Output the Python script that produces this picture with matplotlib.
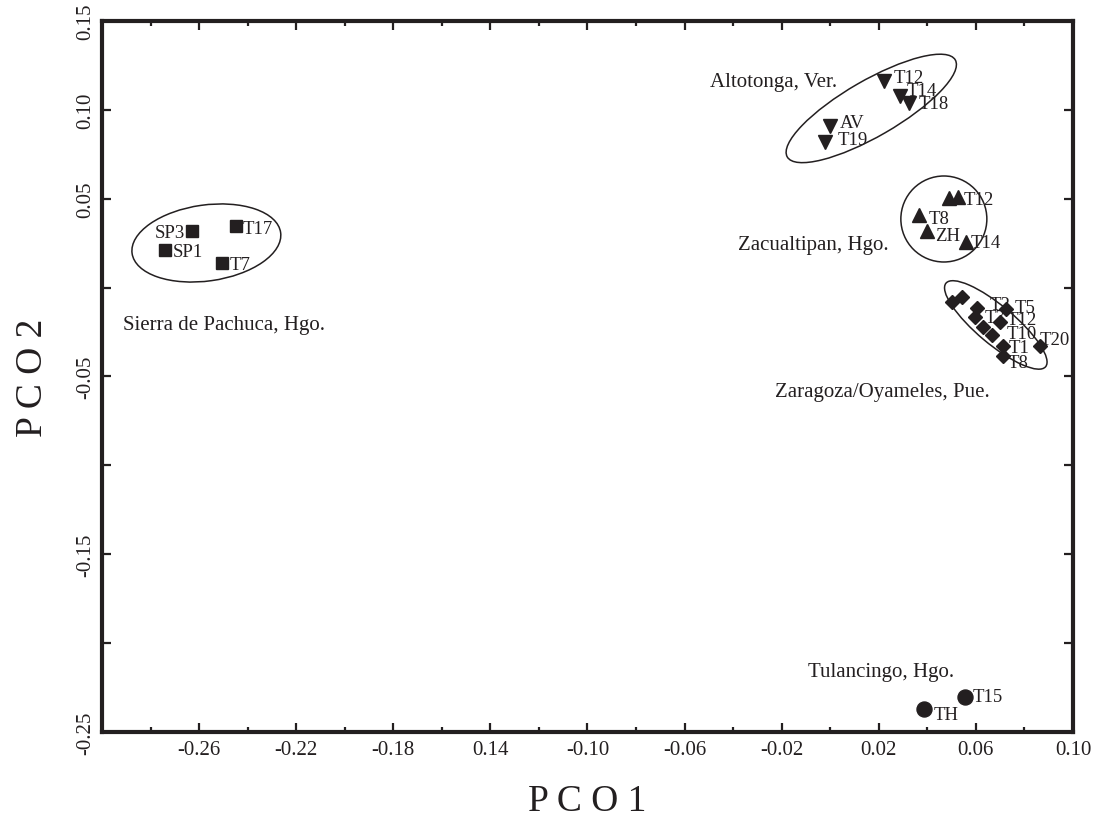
import numpy as np
import matplotlib
matplotlib.use('Agg')
import matplotlib.pyplot as plt
from matplotlib.patches import Ellipse
from matplotlib import transforms

plt.rcParams['font.family'] = ['Liberation Serif', 'DejaVu Serif']

ink = '#231f20'
DPI = 100
PX = 72.0 / DPI  # points per pixel

# PCO scores, one block per locality
sierra_x = [-0.2631, -0.2740, -0.2448, -0.2507]
sierra_y = [0.0317, 0.0212, 0.0345, 0.0139]
sierra_lab = ['SP3', 'SP1', 'T17', 'T7']

alto_x = [0.0221, 0.0287, 0.0325, 0.0001, -0.0022]
alto_y = [0.1164, 0.1080, 0.1039, 0.0908, 0.0818]
alto_lab = ['T12', 'T14', 'T18', 'AV', 'T19']

zacu_x = [0.0490, 0.0527, 0.0365, 0.0397, 0.0561]
zacu_y = [0.0502, 0.0508, 0.0409, 0.0320, 0.0258]
zacu_lab = ['', 'T12', 'T8', 'ZH', 'T14']

zara_x = [0.0500, 0.0541, 0.0603, 0.0596, 0.0630, 0.0668, 0.0699, 0.0726, 0.0710, 0.0712, 0.0863]
zara_y = [-0.0083, -0.0051, -0.0115, -0.0167, -0.0223, -0.0265, -0.0195, -0.0120, -0.0327, -0.0383, -0.0327]
zara_lab = ['', '', 'T2', 'T7', '', 'T10', 'T12', 'T5', 'T1', 'T8', 'T20']

tula_x = [0.0386, 0.0554]
tula_y = [-0.2371, -0.2305]
tula_lab = ['TH', 'T15']

group_names = ['Sierra de Pachuca, Hgo.', 'Altotonga, Ver.', 'Zacualtipan, Hgo.',
               'Zaragoza/Oyameles, Pue.', 'Tulancingo, Hgo.']

xtick_vals = [-0.26, -0.22, -0.18, -0.14, -0.10, -0.06, -0.02, 0.02, 0.06, 0.10]
xtick_labels = ['-0.26', '-0.22', '-0.18', '0.14', '-0.10', '-0.06', '-0.02', '0.02', '0.06', '0.10']
ytick_vals = [0.15, 0.10, 0.05, 0.0, -0.05, -0.10, -0.15, -0.20, -0.25]
ytick_labels = ['0.15', '0.10', '0.05', '', '-0.05', '', '-0.15', '', '-0.25']

# label offsets (pixels: right, up) of each point label
sierra_off = [(-6.7, 0), (7.7, 0), (6.7, -1), (8.3, 0)]
alto_off = [(9.3, 5), (6.7, 6.7), (9, 0.7), (9.3, 5.6), (12.3, 4)]
zacu_off = [(0, 0), (5, -0.7), (9.3, -2.3), (8.3, -3.3), (4, 1)]
zara_off = [(0, 0), (0, 0), (13, 5), (10, 1), (0, 0), (14, 3.4), (6.7, 4.3),
            (8.3, 3.3), (5.6, 0), (5, -5), (0, 8.4)]
tula_off = [(9.3, -4), (7.7, 2.5)]

groups = [
    (sierra_x, sierra_y, sierra_lab, sierra_off, 's', 9.1),
    (alto_x, alto_y, alto_lab, alto_off, 'v', 10.0),
    (zacu_x, zacu_y, zacu_lab, zacu_off, '^', 9.6),
    (zara_x, zara_y, zara_lab, zara_off, 'D', 7.2),
    (tula_x, tula_y, tula_lab, tula_off, 'o', 10.8),
]

# group ellipses: centre in data units, size in pixels, angle in degrees
ell_cx = [-0.2570, 0.0169, 0.0468, 0.0682]
ell_cy = [0.0251, 0.1008, 0.0386, -0.0210]
ell_w = [150, 194, 86, 130]
ell_h = [76, 56, 86, 38]
ell_ang = [8, 30, 0, -40]

name_x = [-0.2914, -0.0496, -0.0381, -0.0228, -0.0092]
name_y = [-0.0233, 0.1134, 0.0217, -0.0610, -0.2185]

fig = plt.figure(figsize=(10.93, 8.2), dpi=DPI)
ax = fig.add_axes([0.0933, 0.1061, 0.8884, 0.8671])
ax.set_xlim(-0.30, 0.10)
ax.set_ylim(-0.25, 0.15)

pt_fs = 13.5
half_cap = 0.66 * pt_fs / PX / 2  # pixels

for xs, ys, labs, offs, mk, ms in groups:
    ax.plot(xs, ys, linestyle='none', marker=mk, ms=ms, color=ink, mec=ink, zorder=3)
    for x, y, lab, (dx, dy) in zip(xs, ys, labs, offs):
        if not lab:
            continue
        ax.annotate(lab, (x, y), xytext=(dx * PX, (dy - half_cap) * PX),
                    textcoords='offset points', ha='right' if dx < 0 else 'left',
                    va='baseline', fontsize=pt_fs, color=ink, zorder=4)

for cx, cy, w, h, a in zip(ell_cx, ell_cy, ell_w, ell_h, ell_ang):
    tr = fig.dpi_scale_trans + transforms.ScaledTranslation(cx, cy, ax.transData)
    ax.add_patch(Ellipse((0, 0), w / DPI, h / DPI, angle=a, transform=tr,
                         fill=False, ec=ink, lw=1.1))

for nx, ny, name in zip(name_x, name_y, group_names):
    ax.text(nx, ny, name, fontsize=15, ha='left', va='baseline', color=ink)

ax.set_xticks(xtick_vals)
ax.set_xticklabels(xtick_labels)
ax.set_xticks(np.arange(-0.28, 0.09, 0.04), minor=True)
ax.set_yticks(ytick_vals)
ax.set_yticklabels(ytick_labels)

ax.tick_params(which='both', direction='in', top=True, right=True, width=1.6, color=ink,
               labelcolor=ink)
ax.tick_params(which='major', length=6.5)
ax.tick_params(which='minor', length=3.5)
ax.tick_params(axis='x', labelsize=15, pad=6)
ax.tick_params(axis='y', labelsize=15, pad=5, labelrotation=90)
for lab in ax.get_yticklabels():
    lab.set_va('center')

for sp in ax.spines.values():
    sp.set_linewidth(3)
    sp.set_color(ink)

ax.set_xlabel('P C O 1', fontsize=27, color=ink)
ax.xaxis.set_label_coords(0.5, -0.1095)
ax.xaxis.label.set_va('baseline')
ax.set_ylabel('P C O 2', fontsize=27, color=ink)
ax.yaxis.set_label_coords(-0.0618, 0.5)
ax.yaxis.label.set_va('baseline')

fig.savefig('out.png', dpi=DPI)
